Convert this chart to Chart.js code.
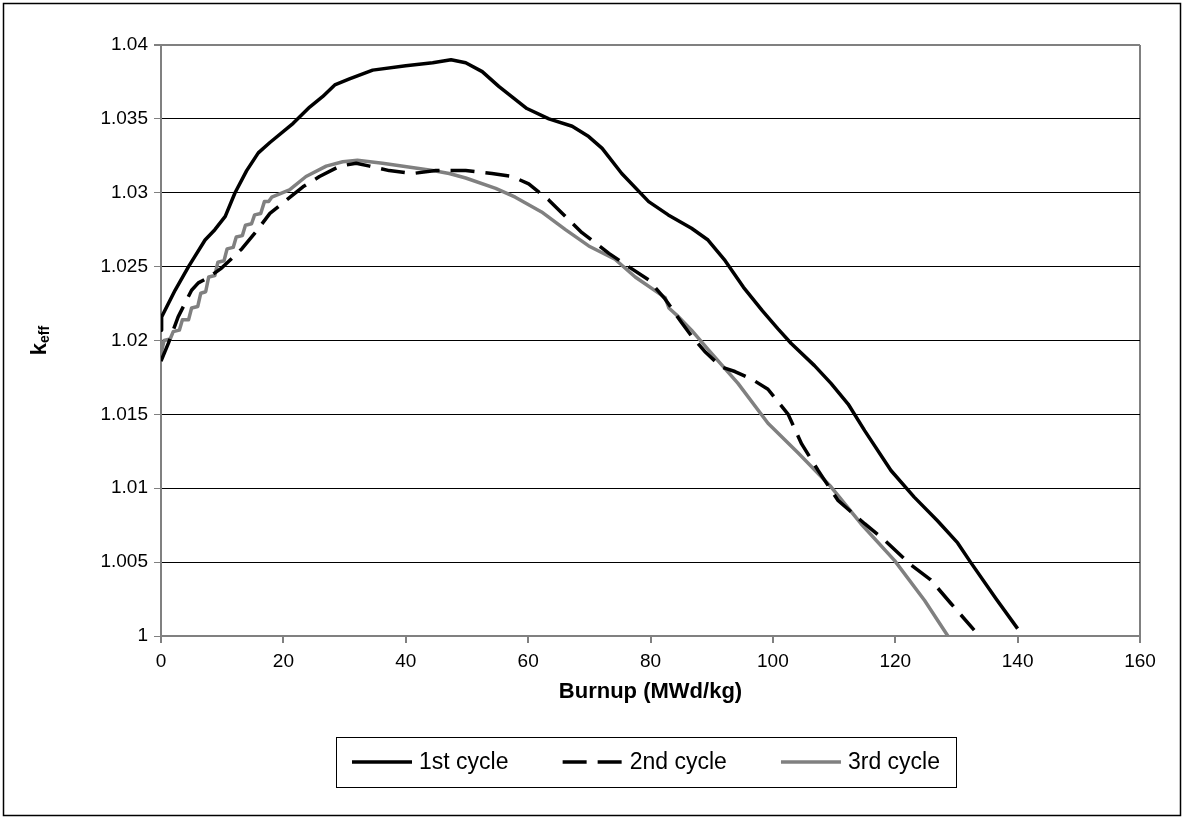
<!DOCTYPE html>
<html>
<head>
<meta charset="utf-8">
<script src="https://cdn.jsdelivr.net/npm/chart.js@4.4.1/dist/chart.umd.min.js"></script>
<style>
  html, body { margin: 0; padding: 0; background: #fff; }
  #wrap { width: 1183px; height: 818px; position: relative; }
</style>
</head>
<body>
<div id="wrap"><canvas id="chart"></canvas></div>
<script>
// ============ Data ============
const cycle1X = [0, 0.1, 2.3, 4.5, 7.2, 8.8, 10.5, 12.1, 14.0, 15.9, 17.8, 21.6, 24.3, 26.4, 28.4, 30.8, 34.6, 40.0, 44.4, 47.4,
    49.8, 52.5, 55.2, 59.8, 63.4, 67.2, 69.9, 72.1, 75.3, 79.7, 82.9, 86.7, 89.4, 92.2, 95.2, 98.3, 100.8, 103.0, 106.8, 109.5,
    112.3, 115.0, 119.3, 123.1, 126.9, 130.2, 132.3, 136.5, 140.0];
const cycle1Y = [1.0207, 1.0216, 1.0234, 1.0250, 1.0268, 1.0275, 1.0284, 1.0300, 1.0315, 1.0327, 1.0334, 1.0347, 1.0358, 1.0365, 1.0373, 1.0377, 1.0383, 1.0386, 1.0388, 1.0390,
    1.0388, 1.0382, 1.0372, 1.0357, 1.0350, 1.0345, 1.0338, 1.0330, 1.0313, 1.0294, 1.0285, 1.0276, 1.0268, 1.0254, 1.0236, 1.0220, 1.0208, 1.0198, 1.0183, 1.0171,
    1.0157, 1.0139, 1.0112, 1.0094, 1.0078, 1.0063, 1.0050, 1.0025, 1.0005];

const cycle2X = [0, 1.2, 2.8, 5.0, 6.1, 7.5, 9.9, 13.2, 15.4, 17.8, 19.9, 23.2, 25.9, 29.2, 31.9, 34.1, 37.3, 41.1, 44.9, 49.8,
    54.1, 57.4, 60.1, 63.4, 65.6, 68.8, 73.2, 76.4, 79.7, 82.4, 85.1, 86.7, 89.0, 91.6, 93.8, 96.5, 99.2, 102.5, 104.7, 107.4,
    110.6, 115.0, 118.2, 122.6, 125.8, 129.1, 132.9];
const cycle2Y = [1.0186, 1.0198, 1.0216, 1.0234, 1.0239, 1.0242, 1.0249, 1.0262, 1.0273, 1.0286, 1.0293, 1.0304, 1.0311, 1.0318, 1.0320, 1.0318, 1.0315, 1.0313, 1.0315, 1.0315,
    1.0313, 1.0311, 1.0306, 1.0295, 1.0286, 1.0273, 1.0259, 1.0250, 1.0241, 1.0228, 1.0212, 1.0203, 1.0192, 1.0182, 1.0179, 1.0174, 1.0167, 1.0150, 1.0130, 1.0112,
    1.0092, 1.0076, 1.0065, 1.0048, 1.0038, 1.0022, 1.0004];

// 3rd cycle rises in small steps at the start
const cycle3X = [0, 0.5, 1.5, 2.0, 3.0, 3.5, 4.5, 5.0, 6.0, 6.5, 7.3, 7.8, 8.8, 9.3, 10.3, 10.8, 11.8, 12.3, 13.3, 13.8,
    14.8, 15.3, 16.3, 16.9, 17.6, 18.1, 21.0, 23.7, 27.0, 29.7, 32.1, 36.2, 44.4, 47.1, 49.8, 54.7, 57.9, 62.2, 66.1, 69.9,
    74.2, 77.5, 82.4, 83.0, 84.6, 86.7, 89.4, 94.3, 99.2, 104.1, 109.5, 114.4, 119.9, 124.8, 128.6];
const cycle3Y = [1.0191, 1.0200, 1.0201, 1.0206, 1.0207, 1.0214, 1.0214, 1.0222, 1.0223, 1.0232, 1.0233, 1.0243, 1.0244, 1.0253, 1.0254, 1.0262, 1.0263, 1.0270, 1.0271, 1.0278,
    1.0279, 1.0285, 1.0286, 1.0294, 1.0294, 1.0297, 1.0302, 1.0311, 1.0318, 1.0321, 1.0322, 1.0320, 1.0315, 1.0313, 1.0310, 1.0303, 1.0297, 1.0287, 1.0275, 1.0264,
    1.0255, 1.0243, 1.0229, 1.0222, 1.0216, 1.0207, 1.0194, 1.0171, 1.0144, 1.0124, 1.0101, 1.0076, 1.0051, 1.0024, 1.0000];

const seriesLabels = ['1st cycle', '2nd cycle', '3rd cycle'];
const xTickLabels = ['0', '20', '40', '60', '80', '100', '120', '140', '160'];
const yTickLabels = ['1', '1.005', '1.01', '1.015', '1.02', '1.025', '1.03', '1.035', '1.04'];

const FONT = 'Arial, "Liberation Sans", sans-serif';

function toPoints(xs, ys) {
    return xs.map((x, i) => ({ x: x, y: ys[i] }));
}

// ============ Plugins ============
// outer frame, y title with subscript, boxed legend
const decorations = {
    id: 'decorations',
    afterDraw(chart) {
        const ctx = chart.ctx;
        const area = chart.chartArea;
        ctx.save();

        // outer frame
        ctx.strokeStyle = '#000';
        ctx.lineWidth = 1.5;
        ctx.strokeRect(3.5, 3.5, chart.width - 6, chart.height - 6);

        // y axis title  k_eff
        ctx.translate(38, (area.top + area.bottom) / 2);
        ctx.rotate(-Math.PI / 2);
        ctx.fillStyle = '#000';
        ctx.textBaseline = 'alphabetic';
        ctx.font = 'bold 22px ' + FONT;
        const kW = ctx.measureText('k').width;
        ctx.font = 'bold 14px ' + FONT;
        const subW = ctx.measureText('eff').width;
        const startX = -(kW + subW) / 2;
        ctx.font = 'bold 22px ' + FONT;
        ctx.textAlign = 'left';
        ctx.fillText('k', startX, 8);
        ctx.font = 'bold 14px ' + FONT;
        ctx.fillText('eff', startX + kW, 11);
        ctx.setTransform(1, 0, 0, 1, 0, 0);

        // legend
        const box = { left: 336, top: 737, right: 956, bottom: 787 };
        ctx.strokeStyle = '#000';
        ctx.lineWidth = 1;
        ctx.strokeRect(box.left + 0.5, box.top + 0.5, box.right - box.left, box.bottom - box.top);
        const midY = (box.top + box.bottom) / 2;
        const sampleW = 60;
        const textGap = 7;
        ctx.font = '23px ' + FONT;
        ctx.textBaseline = 'middle';
        ctx.textAlign = 'left';
        const items = chart.data.datasets;
        const widths = items.map(ds => sampleW + textGap + ctx.measureText(ds.label).width);
        const inner = (box.right - 16) - (box.left + 16);
        const gap = (inner - widths.reduce((a, b) => a + b, 0)) / (items.length - 1);
        let x = box.left + 16;
        items.forEach((ds, i) => {
            ctx.beginPath();
            ctx.strokeStyle = ds.borderColor;
            ctx.lineWidth = ds.borderWidth;
            ctx.setLineDash(ds.borderDash || []);
            ctx.moveTo(x, midY);
            ctx.lineTo(x + sampleW, midY);
            ctx.stroke();
            ctx.setLineDash([]);
            ctx.fillStyle = '#000';
            ctx.fillText(ds.label, x + sampleW + textGap, midY + 1);
            x += widths[i] + gap;
        });

        ctx.restore();
    }
};

// ============ Chart ============
const ctx = document.getElementById('chart').getContext('2d');
const datasets = [
    { label: seriesLabels[0], data: toPoints(cycle1X, cycle1Y), borderColor: '#000000', borderWidth: 3.5, borderDash: [] },
    { label: seriesLabels[1], data: toPoints(cycle2X, cycle2Y), borderColor: '#000000', borderWidth: 3.5, borderDash: [24, 11] },
    { label: seriesLabels[2], data: toPoints(cycle3X, cycle3Y), borderColor: '#808080', borderWidth: 3.5, borderDash: [] }
];
datasets.forEach(d => {
    d.pointRadius = 0;
    d.tension = 0;
    d.fill = false;
    d.borderCapStyle = 'butt';
    d.borderJoinStyle = 'round';
});

new Chart(ctx, {
    type: 'line',
    data: { datasets: datasets },
    options: {
        responsive: true,
        maintainAspectRatio: false,
        animation: false,
        layout: { padding: { top: 45, right: 43, bottom: 112, left: 0 } },
        plugins: {
            legend: { display: false },
            tooltip: { enabled: false }
        },
        scales: {
            x: {
                type: 'linear',
                min: 0,
                max: 160,
                afterFit: scale => { scale.height = 70; },
                ticks: {
                    stepSize: 20,
                    color: '#000',
                    font: { family: FONT, size: 19 },
                    padding: 7,
                    maxRotation: 0,
                    callback: (v, i) => xTickLabels[i]
                },
                grid: {
                    drawOnChartArea: true,
                    color: c => (c.tick && c.tick.value === 160 ? '#808080' : 'rgba(0,0,0,0)'),
                    lineWidth: 2,
                    tickColor: '#808080',
                    tickLength: 7
                },
                border: { color: '#808080', width: 2 },
                title: {
                    display: true,
                    text: 'Burnup (MWd/kg)',
                    color: '#000',
                    font: { family: FONT, size: 22, weight: 'bold' },
                    padding: { top: 8, bottom: 1 }
                }
            },
            y: {
                min: 1,
                max: 1.04,
                afterFit: scale => { scale.width = 161; },
                ticks: {
                    stepSize: 0.005,
                    color: '#000',
                    font: { family: FONT, size: 19 },
                    padding: 6,
                    callback: (v, i) => yTickLabels[i]
                },
                grid: {
                    color: c => ((c.index === 0 || c.index === 8) ? '#808080' : '#000'),
                    lineWidth: c => ((c.index === 8) ? 2 : 1),
                    tickColor: '#808080',
                    tickLength: 7
                },
                border: { color: '#808080', width: 2 }
            }
        }
    },
    plugins: [decorations]
});
</script>
</body>
</html>
